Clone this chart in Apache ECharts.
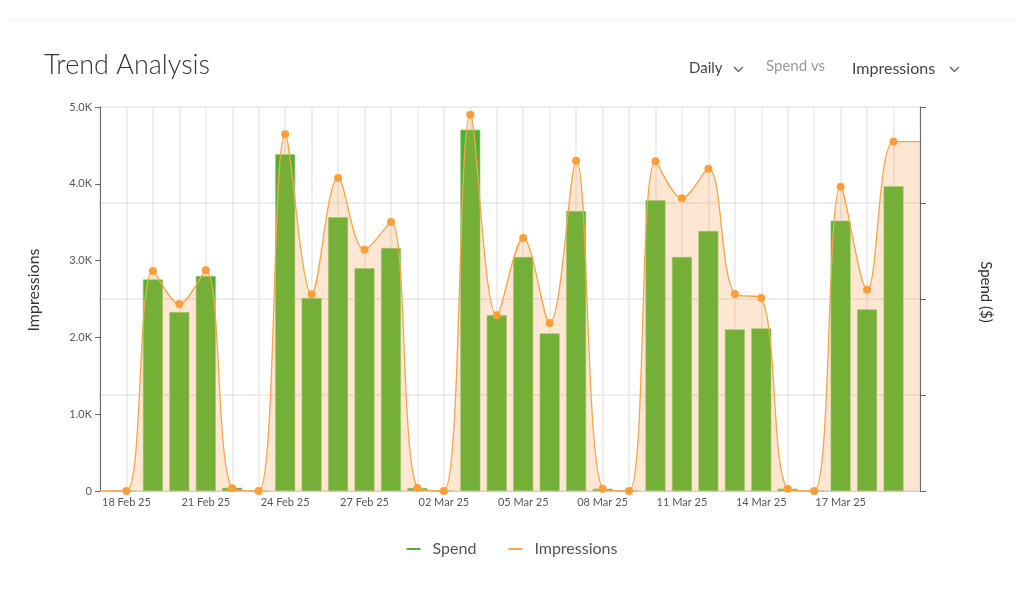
<!DOCTYPE html>
<html>
<head>
<meta charset="utf-8">
<script src="https://cdn.jsdelivr.net/npm/echarts@6/dist/echarts.min.js"></script>
<style>
	html, body { margin: 0; padding: 0; background: #fff; }
	#main { width: 1024px; height: 589px; }
</style>
</head>
<body>
<div id="main"></div>
<script>
// 日期（两端各多一天，只画线不画点）
var days = ['17 Feb 25', '18 Feb 25', '19 Feb 25', '20 Feb 25', '21 Feb 25', '22 Feb 25', '23 Feb 25',
	'24 Feb 25', '25 Feb 25', '26 Feb 25', '27 Feb 25', '28 Feb 25', '01 Mar 25', '02 Mar 25',
	'03 Mar 25', '04 Mar 25', '05 Mar 25', '06 Mar 25', '07 Mar 25', '08 Mar 25', '09 Mar 25',
	'10 Mar 25', '11 Mar 25', '12 Mar 25', '13 Mar 25', '14 Mar 25', '15 Mar 25', '16 Mar 25',
	'17 Mar 25', '18 Mar 25', '19 Mar 25', '20 Mar 25'];
var impressions = [0, 0, 2865, 2435, 2874, 35, 0,
	4645, 2561, 4076, 3142, 3503, 40, 0,
	4900, 2287, 3294, 2188, 4301, 30, 0,
	4292, 3811, 4197, 2565, 2513, 30, 0,
	3963, 2622, 4549, 4549];
var spend = [null, 0, 110.2, 93.2, 112, 1.7, 0,
	175.4, 100.5, 142.6, 116, 126.6, 1.6, 0,
	188.2, 91.5, 121.9, 82.1, 145.8, 1.2, 0,
	151.4, 121.9, 135.4, 84.2, 84.7, 1.2, 0,
	140.8, 94.6, 158.7, null];
var leftTicks = ['0', '1.0K', '2.0K', '3.0K', '4.0K', '5.0K'];

var fontName = 'Lato, "Open Sans", sans-serif';
var lineData = impressions.map(function(v, i) {
	if(i === 0 || i === impressions.length - 1) {
		return { value: v, symbol: 'none' };
	}
	return v;
});

var myChart = echarts.init(document.getElementById('main'));
var option = {
	backgroundColor: '#fff',
	textStyle: { fontFamily: fontName },
	grid: {
		left: 100,
		right: 104,
		top: 107,
		bottom: 98
	},
	graphic: [{
		type: 'rect',
		shape: { x: 8, y: 20, width: 1008, height: 1 },
		style: { fill: '#f2f2f2' }
	}, {
		type: 'text',
		left: 44,
		top: 52,
		style: { text: 'Trend Analysis', fill: '#333', font: '300 27px ' + fontName }
	}, {
		type: 'text',
		left: 689,
		top: 61,
		style: { text: 'Daily', fill: '#444', font: '15px ' + fontName }
	}, {
		type: 'polyline',
		shape: { points: [[734, 67], [738.5, 71.5], [743, 67]] },
		style: { stroke: '#555', lineWidth: 1.2, fill: null }
	}, {
		type: 'text',
		left: 766,
		top: 59,
		style: { text: 'Spend vs', fill: '#9a9a9a', font: '15px ' + fontName }
	}, {
		type: 'text',
		left: 852,
		top: 61,
		style: { text: 'Impressions', fill: '#444', font: '16px ' + fontName }
	}, {
		type: 'polyline',
		shape: { points: [[950, 67], [954.5, 71.5], [959, 67]] },
		style: { stroke: '#555', lineWidth: 1.2, fill: null }
	}],
	legend: {
		bottom: 27,
		left: 'center',
		itemGap: 32,
		itemWidth: 14,
		itemHeight: 2,
		itemStyle: { borderWidth: 0 },
		textStyle: { fontSize: 16, color: '#555', fontFamily: fontName, padding: [0, 0, 0, 7] },
		data: [
			{ name: 'Spend', icon: 'rect', itemStyle: { color: '#49b52f', borderWidth: 0 } },
			{ name: 'Impressions', icon: 'rect', itemStyle: { color: '#f9a34a', borderWidth: 0 } }
		]
	},
	xAxis: {
		type: 'category',
		data: days,
		boundaryGap: false,
		axisLine: { lineStyle: { color: '#cfcfcf' } },
		axisTick: { show: false },
		axisLabel: {
			color: '#555',
			fontSize: 11,
			margin: 6,
			interval: function(i) {
				return i % 3 === 1 && i < days.length - 1;
			}
		},
		splitLine: {
			show: true,
			interval: 0,
			lineStyle: { color: '#e8e8e8', width: 1.5 }
		}
	},
	yAxis: [{
		type: 'value',
		name: 'Impressions',
		nameLocation: 'middle',
		nameGap: 58,
		nameTextStyle: { fontSize: 16, color: '#333', padding: [0, 0, 0, 18] },
		min: 0,
		max: 5000,
		interval: 1000,
		axisLine: { show: true, lineStyle: { color: '#666' } },
		axisTick: { show: true, length: 5, lineStyle: { color: '#666' } },
		axisLabel: {
			color: '#555',
			fontSize: 11,
			margin: 8,
			formatter: function(v) {
				return leftTicks[v / 1000];
			}
		},
		splitLine: { show: false }
	}, {
		type: 'value',
		name: 'Spend ($)',
		nameLocation: 'middle',
		nameGap: 58,
		nameRotate: -90,
		nameTextStyle: { fontSize: 15, color: '#333', padding: [0, 14, 0, 0] },
		min: 0,
		max: 200,
		interval: 50,
		axisLine: { show: true, lineStyle: { color: '#666' } },
		axisTick: { show: true, length: 6, lineStyle: { color: '#666' } },
		axisLabel: { show: false },
		splitLine: { show: true, lineStyle: { color: '#e6e6e6', width: 1.5 } }
	}],
	series: [{
		name: 'Spend',
		type: 'bar',
		yAxisIndex: 1,
		data: spend,
		barWidth: 20,
		z: 2,
		itemStyle: { color: '#49b52f', borderColor: '#8fd07a', borderWidth: 0.6 }
	}, {
		name: 'Impressions',
		type: 'line',
		yAxisIndex: 0,
		data: lineData,
		smooth: 0.35,
		symbol: 'circle',
		symbolSize: 8,
		z: 3,
		lineStyle: { color: '#f9a34a', width: 1.3 },
		itemStyle: { color: '#fb9e38' },
		areaStyle: { color: 'rgba(249, 160, 78, 0.36)' }
	}]
};
myChart.setOption(option);
</script>
</body>
</html>
